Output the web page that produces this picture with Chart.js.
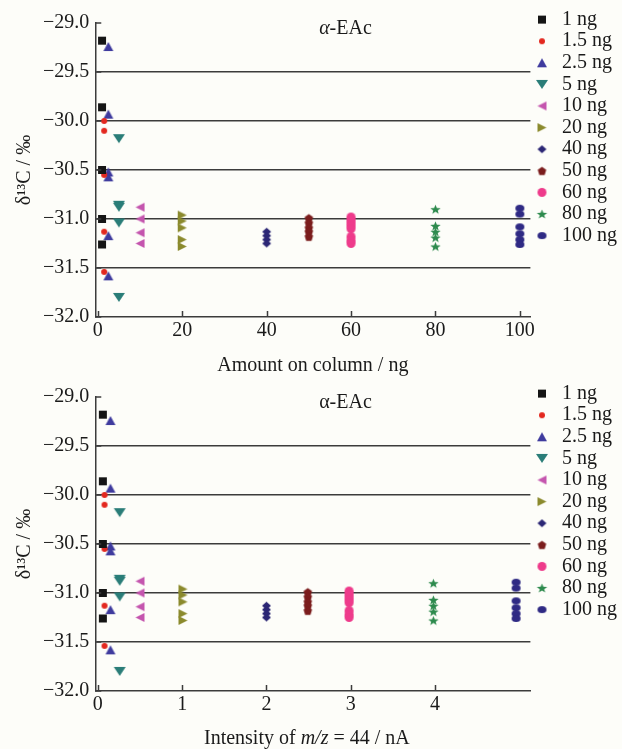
<!DOCTYPE html>
<html>
<head>
<meta charset="utf-8">
<script src="https://cdn.jsdelivr.net/npm/chart.js@4.4.0/dist/chart.umd.min.js"></script>
<style>
html, body { margin: 0; padding: 0; background: #fdfdf9; overflow: hidden; }
#page { position: relative; width: 622px; height: 749px; overflow: hidden; }
.box { position: absolute; left: 0; width: 622px; height: 378px; }
</style>
</head>
<body>
<div id="page">
<div class="box" style="top:0"><canvas id="amountChart"></canvas></div>
<div class="box" style="top:374px"><canvas id="intensityChart"></canvas></div>
</div>
<script>
// Series names (amount injected on column)
const seriesLabels = ['1 ng', '1.5 ng', '2.5 ng', '5 ng', '10 ng', '20 ng', '40 ng', '50 ng', '60 ng', '80 ng', '100 ng'];
// x values: amount on column (ng) and m/z 44 intensity (nA)
const amounts = [1, 1.5, 2.5, 5, 10, 20, 40, 50, 60, 80, 100];
const intensities = [0.06, 0.08, 0.15, 0.26, 0.50, 1.01, 2.00, 2.49, 2.98, 3.98, 4.96];
// delta13C values (permil)
const d13C_1ng = [-29.18, -29.86, -30.50, -31.00, -31.26];
const d13C_1_5ng = [-30.00, -30.10, -30.55, -31.13, -31.54];
const d13C_2_5ng = [-29.24, -29.93, -30.52, -30.57, -31.17, -31.58];
const d13C_5ng = [-30.18, -30.86, -30.88, -31.04, -31.80];
const d13C_10ng = [-30.88, -31.00, -31.14, -31.25];
const d13C_20ng = [-30.96, -31.02, -31.09, -31.21, -31.28];
const d13C_40ng = [-31.13, -31.17, -31.21, -31.25];
const d13C_50ng = [-30.99, -31.04, -31.09, -31.13, -31.18];
const d13C_60ng = [-30.98, -31.01, -31.04, -31.07, -31.10, -31.18, -31.22, -31.25];
const d13C_80ng = [-30.90, -31.07, -31.13, -31.19, -31.28];
const d13C_100ng = [-30.89, -30.95, -31.08, -31.15, -31.21, -31.26];
const deltaSeries = [d13C_1ng, d13C_1_5ng, d13C_2_5ng, d13C_5ng, d13C_10ng, d13C_20ng,
  d13C_40ng, d13C_50ng, d13C_60ng, d13C_80ng, d13C_100ng];
const yTicks = [-32.0, -31.5, -31.0, -30.5, -30.0, -29.5, -29.0];

// Marker looks
const markerColors = ['#151515', '#e3281f', '#3f3b9e', '#2a7d78', '#c455ae', '#8b8a2d',
  '#2c2775', '#7b1d1d', '#ee3b8b', '#2d8a4d', '#2f2a84'];
const markerShapes = ['square', 'circle', 'up', 'down', 'left', 'right',
  'diamond', 'pentagon', 'circle', 'star', 'ellipse'];
const markerSizes = [[8, 8], [6, 6], [10, 9], [12, 9], [9, 9], [9, 9],
  [9, 8], [9, 9], [9, 9], [11, 10], [9, 7]];

const serif = 'Liberation Serif';
const axisColor = '#3c3c3c';
Chart.defaults.font.family = serif;
Chart.defaults.color = '#1a1a1a';

function makeMarker(shape, color, w, h) {
  const c = document.createElement('canvas');
  c.width = w + 2;
  c.height = h + 2;
  const g = c.getContext('2d');
  g.fillStyle = color;
  g.translate(c.width / 2, c.height / 2);
  const rx = w / 2, ry = h / 2;
  g.beginPath();
  if (shape === 'square') {
    g.rect(-rx, -ry, w, h);
  } else if (shape === 'circle' || shape === 'ellipse') {
    g.ellipse(0, 0, rx, ry, 0, 0, Math.PI * 2);
  } else if (shape === 'up') {
    g.moveTo(0, -ry); g.lineTo(rx, ry); g.lineTo(-rx, ry);
  } else if (shape === 'down') {
    g.moveTo(-rx, -ry); g.lineTo(rx, -ry); g.lineTo(0, ry);
  } else if (shape === 'left') {
    g.moveTo(-rx, 0); g.lineTo(rx, -ry); g.lineTo(rx, ry);
  } else if (shape === 'right') {
    g.moveTo(rx, 0); g.lineTo(-rx, -ry); g.lineTo(-rx, ry);
  } else if (shape === 'diamond') {
    g.moveTo(0, -ry); g.lineTo(rx, 0); g.lineTo(0, ry); g.lineTo(-rx, 0);
  } else if (shape === 'pentagon') {
    for (let i = 0; i < 5; i++) {
      const a = -Math.PI / 2 + i * 2 * Math.PI / 5;
      g.lineTo(rx * Math.cos(a), ry * Math.sin(a) + 0.5);
    }
  } else if (shape === 'star') {
    for (let i = 0; i < 10; i++) {
      const a = -Math.PI / 2 + i * Math.PI / 5;
      const r = i % 2 ? 0.42 : 1;
      g.lineTo(rx * r * Math.cos(a), ry * r * Math.sin(a) + 0.5);
    }
  }
  g.closePath();
  g.fill();
  return c;
}

const markers = markerShapes.map((s, i) => makeMarker(s, markerColors[i], markerSizes[i][0], markerSizes[i][1]));

function buildDatasets(xValues) {
  return seriesLabels.map((label, i) => ({
    label: label,
    data: deltaSeries[i].map(v => ({ x: xValues[i], y: v })),
    pointStyle: markers[i],
    backgroundColor: markerColors[i],
    borderColor: markerColors[i],
    showLine: false
  }));
}

// inward ticks on both axes
const inwardTicks = {
  id: 'inwardTicks',
  afterDatasetsDraw(chart) {
    const { ctx, chartArea, scales } = chart;
    ctx.save();
    ctx.strokeStyle = axisColor;
    ctx.lineWidth = 1.5;
    ctx.beginPath();
    scales.x.ticks.forEach(t => {
      const px = Math.round(scales.x.getPixelForValue(t.value)) + 0.5;
      ctx.moveTo(px, chartArea.bottom);
      ctx.lineTo(px, chartArea.bottom - 6);
    });
    scales.y.ticks.forEach(t => {
      const py = scales.y.getPixelForValue(t.value);
      ctx.moveTo(chartArea.left, py);
      ctx.lineTo(chartArea.left + 6, py);
    });
    ctx.stroke();
    ctx.restore();
  }
};

// compound label "α-EAc" inside the plot
const compoundLabel = {
  id: 'compoundLabel',
  afterDraw(chart, args, opts) {
    const { ctx, chartArea } = chart;
    const cx = chartArea.left + chartArea.width * 0.575;
    const cy = chartArea.top + 6;
    ctx.save();
    ctx.fillStyle = '#1a1a1a';
    ctx.textBaseline = 'middle';
    const alphaFont = (opts.italic ? 'italic ' : '') + '20px "' + serif + '"';
    const restFont = '20px "' + serif + '"';
    ctx.font = alphaFont;
    const wa = ctx.measureText('α').width;
    ctx.font = restFont;
    const wr = ctx.measureText('-EAc').width;
    let x = cx - (wa + wr) / 2;
    ctx.font = alphaFont;
    ctx.textAlign = 'left';
    ctx.fillText('α', x, cy);
    ctx.font = restFont;
    ctx.fillText('-EAc', x + wa, cy);
    ctx.restore();
  }
};

// x title with italic m/z, drawn over the space the hidden title keeps
const mixedXTitle = {
  id: 'mixedXTitle',
  afterDraw(chart, args, opts) {
    if (!opts.parts) return;
    const { ctx, chartArea, scales } = chart;
    const parts = opts.parts;
    const cy = scales.x.bottom - 13;
    ctx.save();
    ctx.fillStyle = '#1a1a1a';
    ctx.textBaseline = 'middle';
    let total = 0;
    parts.forEach(p => { ctx.font = (p.italic ? 'italic ' : '') + '20px "' + serif + '"'; total += ctx.measureText(p.text).width; });
    let x = (chartArea.left + chartArea.right) / 2 - total / 2 - 6;
    parts.forEach(p => {
      ctx.font = (p.italic ? 'italic ' : '') + '20px "' + serif + '"';
      ctx.fillText(p.text, x, cy);
      x += ctx.measureText(p.text).width;
    });
    ctx.restore();
  }
};

function makeChart(id, xValues, xOpts, titleText, hideTitle, italicAlpha, titleParts) {
  return new Chart(document.getElementById(id), {
    type: 'scatter',
    data: { datasets: buildDatasets(xValues) },
    plugins: [inwardTicks, compoundLabel, mixedXTitle],
    options: {
      responsive: true,
      maintainAspectRatio: false,
      animation: false,
      layout: { padding: { top: 8, left: 13, right: -5, bottom: 0 } },
      elements: { point: { radius: 5, hoverRadius: 5 } },
      plugins: {
        tooltip: { enabled: false },
        compoundLabel: { italic: italicAlpha },
        mixedXTitle: { parts: titleParts },
        legend: {
          position: 'right',
          align: 'start',
          labels: {
            usePointStyle: true,
            boxWidth: 20,
            padding: 1.6,
            color: '#1a1a1a',
            font: { family: serif, size: 20 }
          }
        }
      },
      scales: {
        x: {
          type: 'linear',
          min: xOpts.min,
          max: xOpts.max,
          afterBuildTicks: scale => {
            scale.ticks = xOpts.ticks.map(v => ({ value: v }));
          },
          ticks: {
            color: '#1a1a1a',
            font: { family: serif, size: 20 },
            padding: 2,
            maxRotation: 0,
            callback: v => String(v)
          },
          grid: { display: false, drawTicks: false },
          border: { display: true, color: axisColor, width: 1.5 },
          title: {
            display: true,
            text: titleText,
            color: hideTitle ? 'rgba(0,0,0,0)' : '#1a1a1a',
            font: { family: serif, size: 20 },
            padding: { top: 9, bottom: 0 }
          }
        },
        y: {
          min: -32,
          max: -29,
          afterBuildTicks: scale => {
            scale.ticks = yTicks.map(v => ({ value: v }));
          },
          ticks: {
            color: '#1a1a1a',
            font: { family: serif, size: 20, lineHeight: 1.7 },
            padding: 6,
            callback: v => (v < 0 ? '\u2212' : '') + Math.abs(v).toFixed(1)
          },
          grid: {
            drawTicks: false,
            lineWidth: 1.5,
            color: ctx => (ctx.tick && (ctx.tick.value === -29 || ctx.tick.value === -32)) ? 'rgba(0,0,0,0)' : axisColor
          },
          border: { display: true, color: axisColor, width: 1.5 },
          title: {
            display: true,
            text: 'δ¹³C / ‰',
            color: '#1a1a1a',
            font: { family: serif, size: 20 },
            padding: { top: 0, bottom: 0 }
          }
        }
      }
    }
  });
}

makeChart('amountChart', amounts,
  { min: -0.6, max: 102.5, ticks: [0, 20, 40, 60, 80, 100] },
  'Amount on column / ng', false, true, null);

makeChart('intensityChart', intensities,
  { min: -0.03, max: 5.13, ticks: [0, 1, 2, 3, 4] },
  'Intensity of m/z = 44 / nA', true, false,
  [{ text: 'Intensity of ' }, { text: 'm/z', italic: true }, { text: ' = 44 / nA' }]);
</script>
</body>
</html>
